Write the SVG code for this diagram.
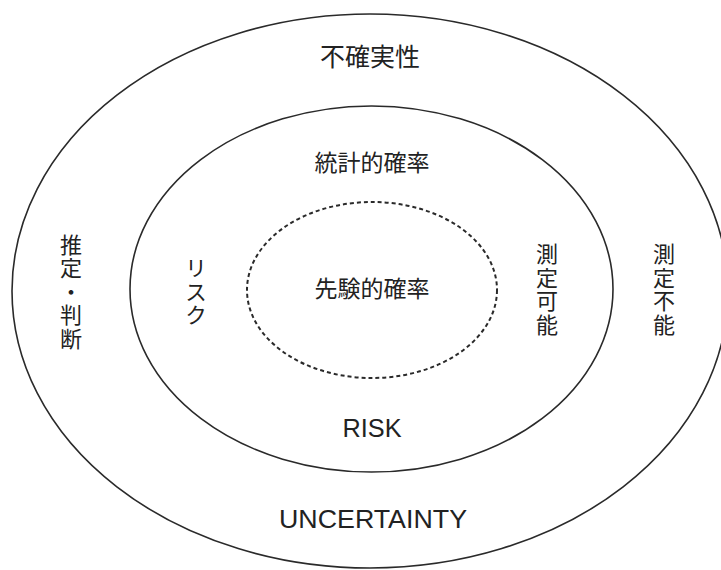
<svg xmlns="http://www.w3.org/2000/svg" width="721" height="570" viewBox="0 0 721 570">
<style>
.ring{fill:none;stroke:#2a2a2a;stroke-width:1.6}
.dash{fill:none;stroke:#2a2a2a;stroke-width:2;stroke-dasharray:4 3}
.jp{font-family:"Noto Sans CJK JP","Noto Sans",sans-serif;fill:#222;text-anchor:middle}
.en{font-family:"Liberation Sans",Arial,sans-serif;fill:#222;text-anchor:middle}
.v{writing-mode:vertical-rl;font-size:22px;letter-spacing:1.5px}
</style>
<rect width="721" height="570" fill="#fff"/>
<g id="uncertainty">
<ellipse class="ring" cx="370" cy="291" rx="358" ry="277"/>
<text class="jp" x="370" y="66" font-size="25">不確実性</text>
<text class="en" x="373" y="528" font-size="25" textLength="188" lengthAdjust="spacingAndGlyphs">UNCERTAINTY</text>
<text class="jp v" x="71" y="292">推定・判断</text>
<text class="jp v" x="664" y="290">測定不能</text>
</g>
<g id="risk">
<ellipse class="ring" cx="371.5" cy="289" rx="241.5" ry="183"/>
<text class="jp" x="372" y="171" font-size="23">統計的確率</text>
<text class="en" x="372" y="437" font-size="26" textLength="59" lengthAdjust="spacingAndGlyphs">RISK</text>
<text class="jp v" x="196" y="292">リスク</text>
<text class="jp v" x="547" y="290">測定可能</text>
</g>
<g id="apriori">
<ellipse class="dash" cx="372" cy="290" rx="125" ry="88"/>
<text class="jp" x="372" y="297" font-size="23">先験的確率</text>
</g>
</svg>
